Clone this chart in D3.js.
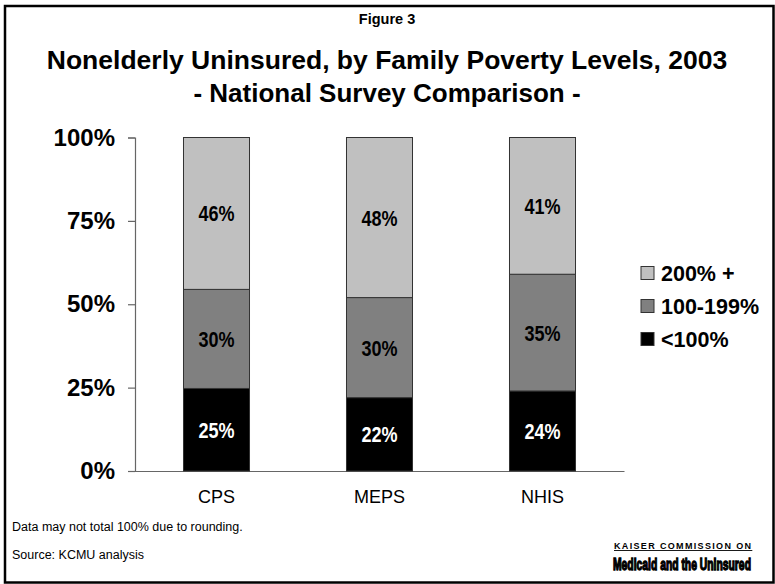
<!DOCTYPE html>
<html>
<head>
<meta charset="utf-8">
<script src="https://cdn.jsdelivr.net/npm/d3@7"></script>
<style>
  html, body { margin: 0; padding: 0; background: #fff; }
  svg { display: block; font-family: Arial, "Liberation Sans", Helvetica, sans-serif; }
</style>
</head>
<body>
<svg id="chart" width="775" height="584"></svg>
<script>
// Survey sources along the x axis
const categories = ["CPS", "MEPS", "NHIS"];
// Share of nonelderly uninsured by family poverty level (percent)
const below100 = [25, 22, 24];
const from100to199 = [30, 30, 35];
const above200 = [46, 48, 41];
const seriesNames = ["<100%", "100-199%", "200% +"];
const seriesColors = ["#000000", "#808080", "#c0c0c0"];
const labelColors = ["#ffffff", "#000000", "#000000"];
const yTickValues = [0, 0.25, 0.5, 0.75, 1];

const svg = d3.select("#chart");

// outer frame
svg.append("rect")
  .attr("x", 5).attr("y", 6)
  .attr("width", 768.5).attr("height", 576.5)
  .attr("fill", "#fff").attr("stroke", "#000").attr("stroke-width", 2.5);

// titles
svg.append("text").attr("x", 387).attr("y", 24)
  .attr("text-anchor", "middle").attr("font-size", 14.5).attr("font-weight", "bold")
  .text("Figure 3");
svg.append("text").attr("x", 387).attr("y", 69)
  .attr("text-anchor", "middle").attr("font-size", 26.5).attr("font-weight", "bold")
  .text("Nonelderly Uninsured, by Family Poverty Levels, 2003");
svg.append("text").attr("x", 387).attr("y", 102)
  .attr("text-anchor", "middle").attr("font-size", 26).attr("font-weight", "bold")
  .text("- National Survey Comparison -");

// table of rows for the stack
const rows = categories.map((c, i) => ({
  cat: c,
  "<100%": below100[i],
  "100-199%": from100to199[i],
  "200% +": above200[i]
}));
const stacked = d3.stack().keys(seriesNames).offset(d3.stackOffsetExpand)(rows);

const x = d3.scaleBand().domain(categories).range([135, 624]).paddingInner(0.595).paddingOuter(0.2975);
const y = d3.scaleLinear().domain([0, 1]).range([471, 137.5]);

// y axis
const yAxis = d3.axisLeft(y).tickValues(yTickValues).tickSize(7).tickPadding(13)
  .tickFormat(d3.format(".0%"));
const gy = svg.append("g").attr("transform", "translate(135,0)").call(yAxis);
gy.select(".domain").attr("stroke", "#666").attr("stroke-width", 1.2);
gy.selectAll(".tick line").attr("stroke", "#666").attr("stroke-width", 1.2);
gy.selectAll(".tick text").attr("font-size", 24).attr("font-weight", "bold")
  .attr("font-family", "Arial, 'Liberation Sans', sans-serif").attr("fill", "#000");

// x axis baseline and category labels
const xAxis = d3.axisBottom(x).tickSize(0).tickPadding(19);
const gx = svg.append("g").attr("transform", "translate(0,471)").call(xAxis);
gx.select(".domain").attr("stroke", "#666").attr("stroke-width", 1.2);
gx.selectAll(".tick text").attr("font-size", 18)
  .attr("font-family", "Arial, 'Liberation Sans', sans-serif").attr("fill", "#000");

// stacked bars
const layers = svg.append("g").selectAll("g").data(stacked).join("g")
  .attr("fill", (d, i) => seriesColors[i]);
layers.selectAll("rect").data(d => d).join("rect")
  .attr("x", d => x(d.data.cat))
  .attr("width", x.bandwidth())
  .attr("y", d => y(d[1]))
  .attr("height", d => y(d[0]) - y(d[1]))
  .attr("stroke", "#333").attr("stroke-width", 1);

// value labels, centred in each segment
stacked.forEach((layer, si) => {
  const values = [below100, from100to199, above200][si];
  svg.append("g").selectAll("text").data(layer).join("text")
    .attr("transform", d => `translate(${x(d.data.cat) + x.bandwidth() / 2},${(y(d[0]) + y(d[1])) / 2 + 8}) scale(0.82,1)`)
    .attr("text-anchor", "middle")
    .attr("font-size", 22).attr("font-weight", "bold")
    .attr("fill", labelColors[si])
    .text((d, i) => values[i] + "%");
});

// legend, top entry first
const legendOrder = [2, 1, 0];
const lg = svg.append("g").selectAll("g").data(legendOrder).join("g")
  .attr("transform", (d, i) => `translate(641,${273 + i * 33})`);
lg.append("rect").attr("x", 0).attr("y", -6.5).attr("width", 13).attr("height", 13)
  .attr("fill", d => seriesColors[d]).attr("stroke", "#333").attr("stroke-width", 1);
lg.append("text").attr("x", 20).attr("y", 8)
  .attr("font-size", 21.5).attr("font-weight", "bold")
  .text(d => seriesNames[d]);

// notes
svg.append("text").attr("x", 12).attr("y", 531).attr("font-size", 12.5)
  .text("Data may not total 100% due to rounding.");
svg.append("text").attr("x", 12).attr("y", 559).attr("font-size", 12.5)
  .text("Source: KCMU analysis");

// organisation mark: letter-spaced heading over a heavy condensed line
const markLeft = 614, markWidth = 137;
const head = svg.append("text").attr("x", markLeft).attr("y", 549)
  .attr("font-size", 9).attr("font-weight", "bold")
  .attr("text-decoration", "underline")
  .text("KAISER COMMISSION ON");
const headText = head.text();
const headW = head.node().getComputedTextLength();
head.attr("letter-spacing", ((markWidth - headW) / (headText.length - 1)).toFixed(2));

const org = svg.append("text")
  .attr("font-size", 16).attr("font-weight", "bold")
  .attr("stroke", "#000").attr("stroke-width", 1.3)
  .text("Medicaid and the Uninsured");
const orgW = org.node().getComputedTextLength();
org.attr("transform", `translate(${markLeft - 1},569.5) scale(${(markWidth + 1) / orgW},1)`);
</script>
</body>
</html>
